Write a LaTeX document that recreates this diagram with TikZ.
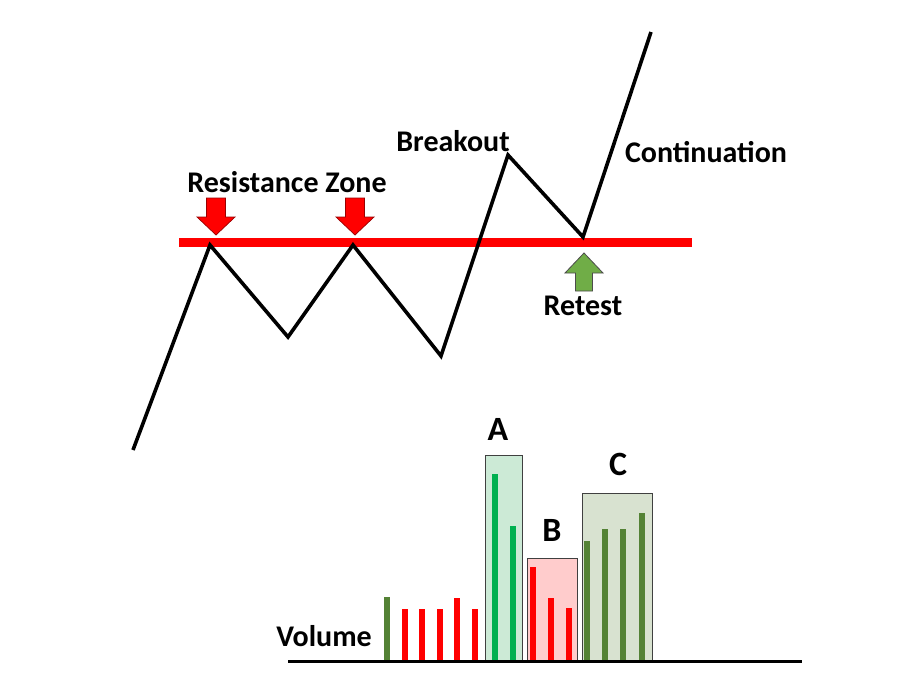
\documentclass[tikz,border=0pt]{standalone}
\usepackage{fontspec}
\setmainfont{Carlito}
\definecolor{rred}{RGB}{255,0,0}
\definecolor{olive}{RGB}{84,130,53}
\definecolor{bgreen}{RGB}{0,176,80}
\definecolor{agreen}{RGB}{112,173,71}
\definecolor{boxA}{RGB}{204,234,214}
\definecolor{boxB}{RGB}{255,204,204}
\definecolor{boxC}{RGB}{216,226,208}
\tikzset{
  lbl/.style={font=\fontsize{30}{35}\selectfont\bfseries, inner sep=0pt},
  big/.style={font=\fontsize{34}{40}\selectfont\bfseries, inner sep=0pt},
  price/.style={line width=3.6pt, black, line join=miter},
  vbar/.style={line width=6pt},
  vbox/.style={draw=black!75, line width=1pt},
}
\begin{document}
\begin{tikzpicture}[x=1pt,y=-1pt]
\useasboundingbox (0,0) rectangle (900,694);
\fill[white] (0,0) rectangle (900,694);
% price path coordinates
\coordinate (s) at (133,450);
\coordinate (p1) at (210,245);
\coordinate (t1) at (288,337);
\coordinate (p2) at (353,245);
\coordinate (t2) at (441,356);
\coordinate (bo) at (508,155);
\coordinate (rt) at (583,237);
\coordinate (e) at (651,32);
% resistance line
\coordinate (rl) at (179,242.5);
\coordinate (rr) at (692,242.5);
\draw[rred, line width=9pt] (rl) -- (rr);
\draw[price] (s) -- (p1) -- (t1) -- (p2) -- (t2) -- (bo) -- (rt) -- (e);
% red arrows
\foreach \cx in {216,355}{
  \filldraw[fill=rred, draw=red!60!black, line width=0.7pt]
    (\cx-9.5,198) -- (\cx+9.5,198) -- (\cx+9.5,217) -- (\cx+19,217) -- (\cx,235)
    -- (\cx-19,217) -- (\cx-9.5,217) -- cycle;
}
% green arrow
\filldraw[fill=agreen, draw=black!70, line width=0.8pt]
  (575.5,291) -- (592.5,291) -- (592.5,273) -- (603,273) -- (584,253)
  -- (565,273) -- (575.5,273) -- cycle;
% labels
\node[lbl] (rz) at (287,182) {Resistance Zone};
\node[lbl] (bk) at (453,141) {Breakout};
\node[lbl] (ct) at (706,152) {Continuation};
\node[lbl] (re) at (583,306) {Retest};
% volume boxes
\filldraw[vbox, fill=boxA] (485,455) rectangle (522,660);
\filldraw[vbox, fill=boxB] (527,558) rectangle (577,660);
\filldraw[vbox, fill=boxC] (582,493) rectangle (652,660);
% bars
\draw[vbar, olive] (387,660) -- (387,597);
\foreach \bx/\by in {405/609,422/609,440/609,457/598,475/609}{
  \draw[vbar, rred] (\bx,660) -- (\bx,\by);
}
\draw[vbar, bgreen] (495,660) -- (495,474);
\draw[vbar, bgreen] (513,660) -- (513,526);
\foreach \bx/\by in {533/567,551/598,569/608}{
  \draw[vbar, rred] (\bx,660) -- (\bx,\by);
}
\foreach \bx/\by in {587/541,605/529,623/529,642/513}{
  \draw[vbar, olive] (\bx,660) -- (\bx,\by);
}
% baseline
\coordinate (bl) at (288,661);
\coordinate (br) at (802,661);
\draw[black, line width=3pt] (bl) -- (br);
% volume labels
\node[lbl] (vol) at (324,636) {Volume};
\node[big] (la) at (498,429) {A};
\node[big] (lb) at (552,530) {B};
\node[big] (lc) at (618,464) {C};
\end{tikzpicture}
\end{document}
